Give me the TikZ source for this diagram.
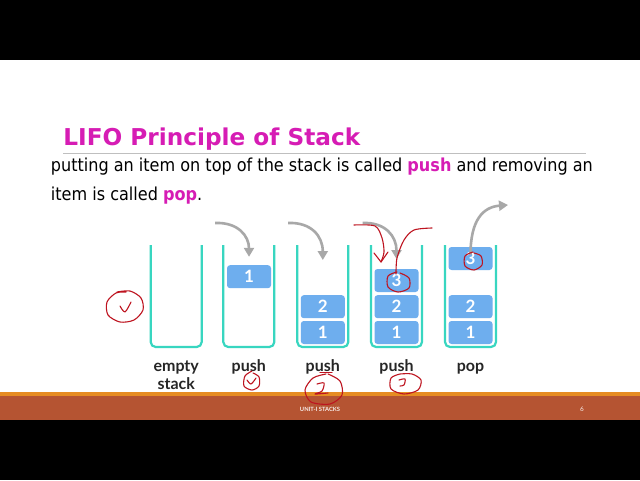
\documentclass[tikz,border=0pt]{standalone}
\usepackage{fontspec}
\setmainfont{DejaVu Sans Condensed}
\newfontfamily\titlefont{DejaVu Sans}
\newfontfamily\lblfont{Lato}
\usetikzlibrary{arrows.meta}

\definecolor{slidemag}{RGB}{214,28,180}
\definecolor{stackteal}{RGB}{56,214,192}
\definecolor{itemblue}{RGB}{110,174,238}
\definecolor{arrowgrey}{RGB}{168,168,168}
\definecolor{footbrown}{RGB}{181,84,50}
\definecolor{footorange}{RGB}{230,140,34}
\definecolor{inkred}{RGB}{190,20,32}

\tikzset{
    stackline/.style={line width=1.1pt, stackteal, rounded corners=2.5pt},
    item/.style={fill=itemblue, rounded corners=1.5pt, minimum width=22pt, minimum height=11.5pt,
        inner sep=0pt, text=white, font=\lblfont\bfseries\fontsize{8.5}{9}\selectfont},
    caption/.style={font=\lblfont\bfseries\fontsize{8}{8.85}\selectfont, align=center, text=black!85},
    move/.style={line width=1.3pt, arrowgrey, -{Triangle[length=4.5pt,width=5pt]}},
    ink/.style={inkred, line width=0.55pt, line cap=round, line join=round}
}

\begin{document}
\begin{tikzpicture}[x=0.5pt, y=-0.5pt]
    \useasboundingbox (0,0) rectangle (640,480);

    % Slide background and bars
    \fill[white] (0,60) rectangle (640,420);
    \fill[black] (0,0) rectangle (640,60);
    \fill[black] (0,419.5) rectangle (640,480);
    \fill[footorange] (0,392.3) rectangle (640,396);
    \fill[footbrown] (0,396) rectangle (640,419.5);

    % Title and text
    \node[anchor=base west, inner sep=0pt, text=slidemag, font=\titlefont\bfseries\fontsize{11.6}{13}\selectfont] (title) at (63,146) {LIFO Principle of Stack};
    \draw[black!25, line width=0.5pt] (63,153.5) -- (586,153.5);
    \node[anchor=base west, inner sep=0pt, font=\fontsize{8.93}{10}\selectfont] (line1) at (50.5,171.5)
        {putting an item on top of the stack is called \textcolor{slidemag}{\textbf{push}} and removing an};
    \node[anchor=base west, inner sep=0pt, font=\fontsize{8.93}{10}\selectfont] (line2) at (50.5,200)
        {item is called \textcolor{slidemag}{\textbf{pop}}.};

    % Draw the stacks
    \foreach \x in {150.7,223.3,297.3,371,445}
        \draw[stackline] (\x,245) -- (\x,347) -- ({\x+51},347) -- ({\x+51},245);

    % Items in the stacks
    \node[item] (b1) at (249,276.7) {1};
    \node[item] (c1) at (322.8,332.5) {1};
    \node[item] (c2) at (322.8,306.7) {2};
    \node[item] (d1) at (396.5,332.5) {1};
    \node[item] (d2) at (396.5,306.7) {2};
    \node[item] (d3) at (396.5,280.5) {3};
    \node[item] (e1) at (470.5,332.5) {1};
    \node[item] (e2) at (470.5,306.7) {2};
    \node[item] (e3) at (470.5,258.5) {3};

    % Captions
    \node[caption, anchor=base] (capa) at (176.2,389.3) {empty\\stack};
    \node[caption, anchor=base] (capb) at (248.8,371.5) {push};
    \node[caption, anchor=base] (capc) at (322.8,371.5) {push};
    \node[caption, anchor=base] (capd) at (396.5,371.5) {push};
    \node[caption, anchor=base] (cape) at (470.5,371.5) {pop};

    % Push and pop arrows
    \coordinate (sb) at (215,223);
    \coordinate (sc) at (288,223);
    \coordinate (sd) at (362.7,223);
    \coordinate (ee) at (508,205);
    \draw[move] (sb) .. controls (238,222) and (249,236) .. ([yshift=4pt]b1.north);
    \draw[move] (sc) .. controls (311,222) and (322.8,236) .. (322.8,260);
    \draw[move] (sd) .. controls (385,222) and (396.5,236) .. (396.5,259);
    \draw[move] ([yshift=-4pt]e3.north) .. controls (470.5,220) and (483,207) .. (ee);

    % Footer
    \node[text=white!90!footbrown, font=\lblfont\bfseries\fontsize{2.9}{3}\selectfont] (unit) at (320,409) {UNIT-I STACKS};
    \node[text=white!90!footbrown, font=\lblfont\fontsize{3.2}{3.5}\selectfont] (page) at (582,409) {6};

    % Red ink notes
    \draw[ink] plot[smooth] coordinates {(117,292) (130,291) (141,298) (143,310) (134,320) (120,322) (108,315) (107,302) (116,293) (126,292)};
    \draw[ink] plot[smooth] coordinates {(120,306) (125,312) (131,302)};
    \draw[ink] plot[smooth] coordinates {(252,371) (245,376) (244,386) (252,390) (259,386) (259,377) (253,373)};
    \draw[ink] plot[smooth] coordinates {(247,380) (251,384) (256,378)};
    \draw[ink] (320,372.5) -- (332,372.5);
    \draw[ink] plot[smooth] coordinates {(326,374) (313,378) (305,390) (311,402) (330,404) (342,395) (340,381) (328,374)};
    \draw[ink] plot[smooth] coordinates {(317,384) (324,383) (322,391) (315,394) (328,393)};
    \draw[ink] plot[smooth] coordinates {(400,374) (391,378) (391,389) (404,394) (418,390) (421,380) (412,374) (400,374)};
    \draw[ink] plot[smooth] coordinates {(399,380) (405,379) (404,385) (400,386)};
    \draw[ink] plot[smooth] coordinates {(397,272) (388,276) (388,287) (398,292) (409,288) (409,278) (400,273)};
    \draw[ink] plot[smooth] coordinates {(473,252) (465,256) (465,266) (474,270) (482,265) (481,256) (474,253)};
    \draw[ink] plot[smooth] coordinates {(354,225) (375,226) (382,238) (384,252) (381,262)};
    \draw[ink] (374,253) -- (381,262) -- (388,252);
    \draw[ink] plot[smooth] coordinates {(396,274) (397,258) (404,240) (414,230) (432,228)};
\end{tikzpicture}
\end{document}
